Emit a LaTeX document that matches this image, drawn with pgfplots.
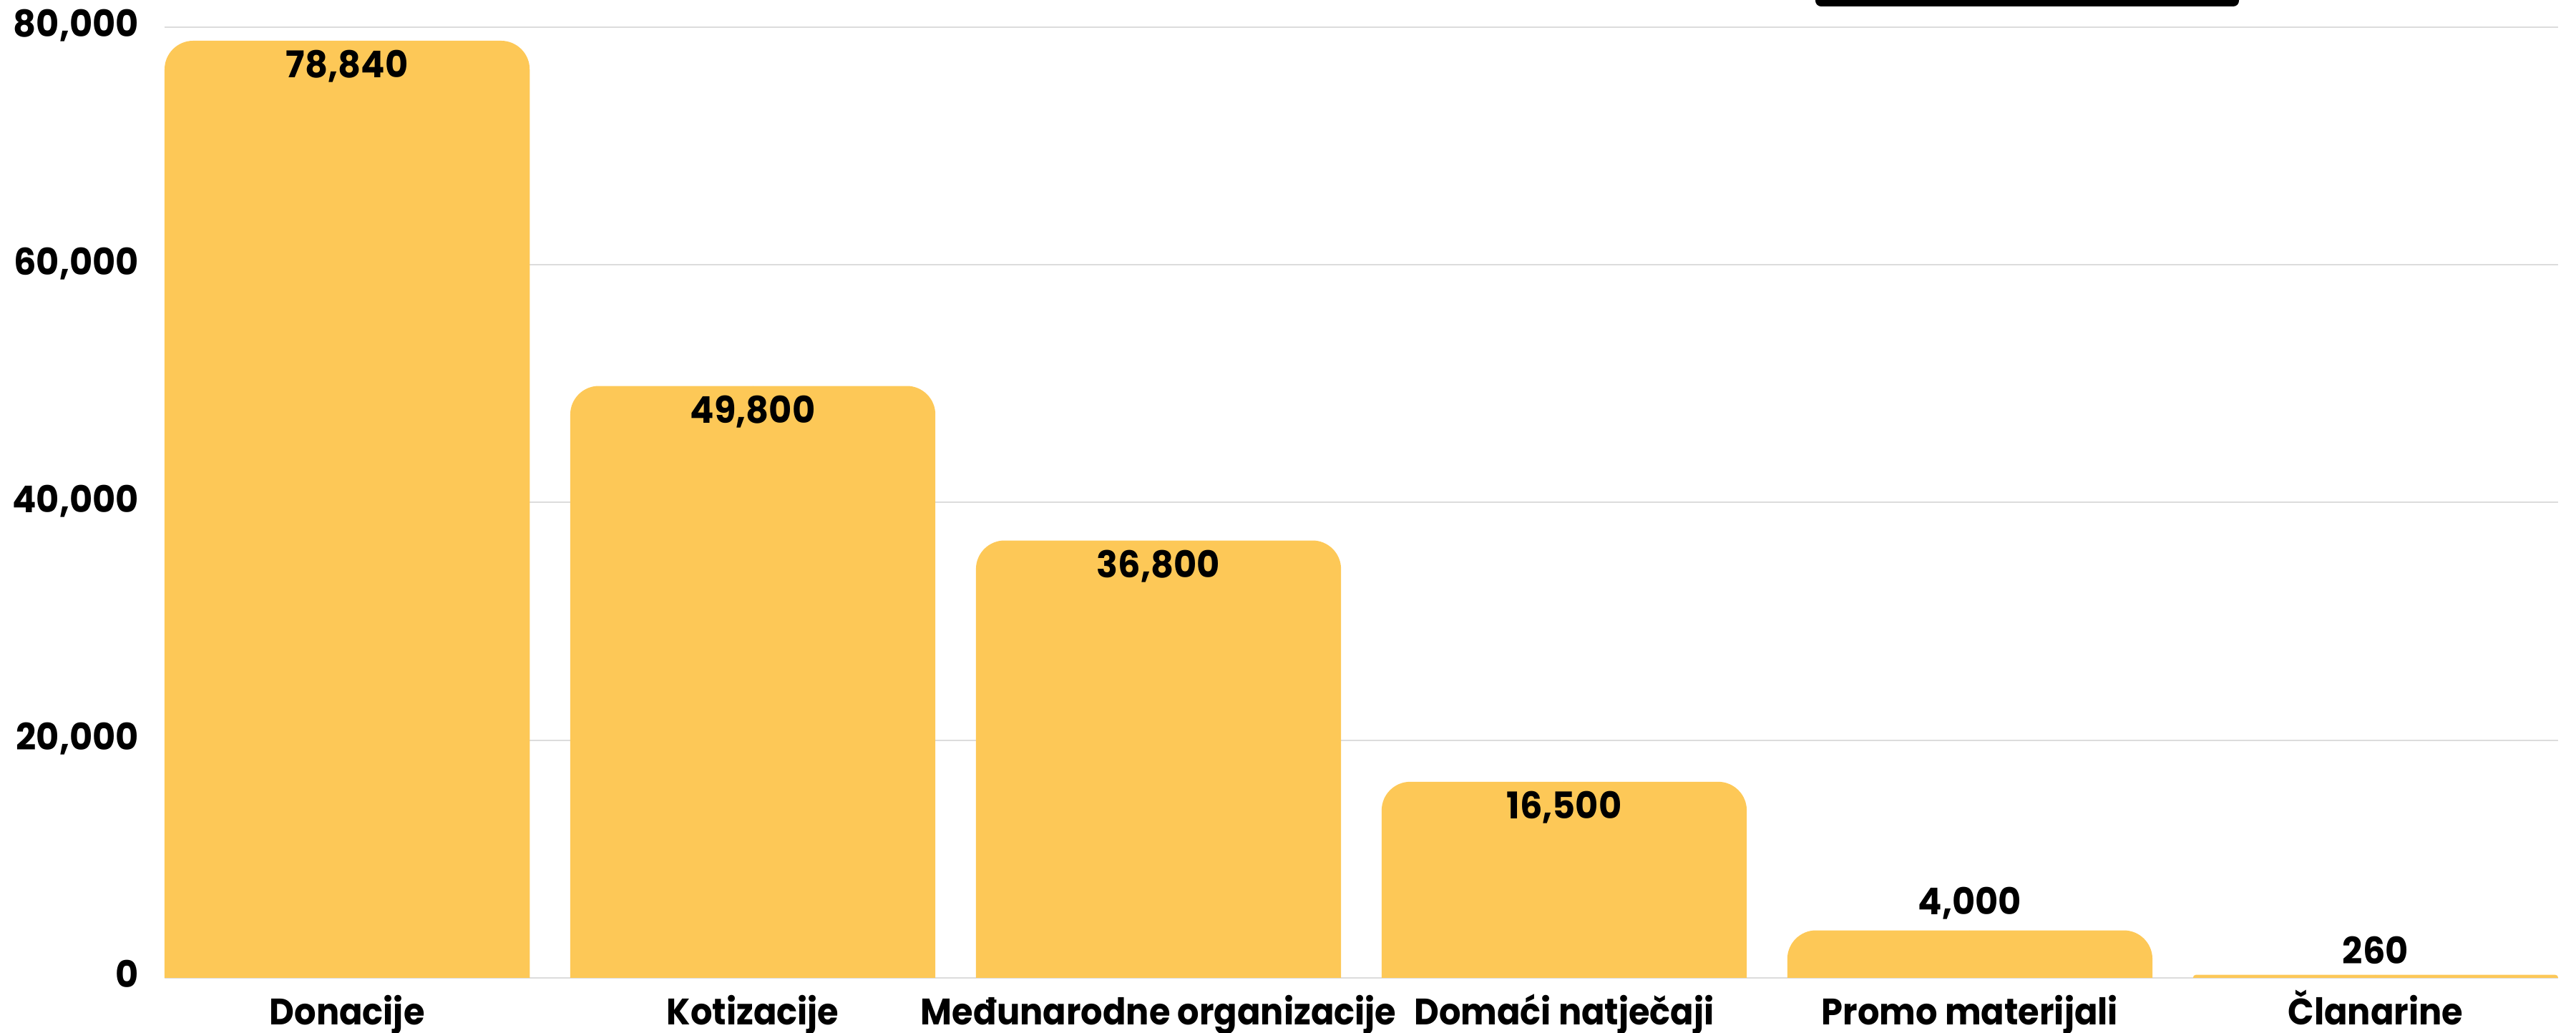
\documentclass[border=0pt]{standalone}
\usepackage{fontspec}
\setmainfont{Poppins}[FakeStretch=0.96]
\newfontfamily\catfont{Poppins}[FakeStretch=0.93]
\usepackage{pgfplots}
\pgfplotsset{compat=1.18}
\usepackage{pgfplotstable}
\definecolor{barcol}{HTML}{FDC857}
\definecolor{gridcol}{HTML}{DCDCDC}
\definecolor{basecol}{HTML}{777777}

\pgfplotstableread{
x y off
0 78840 -10.4
1 49800 -10.4
2 36800 -10.4
3 16500 -10.4
4 4000 4.4
5 260 3.1
}\datatable

\begin{document}
\begin{tikzpicture}[font=\bfseries\fontsize{10.3}{12}\selectfont]
\clip (-46pt,-15.4pt) rectangle (674pt,273.4pt);
\fill[black, rounded corners=1.6pt] (461.4pt,271.6pt) rectangle (579.8pt,285pt);
\begin{axis}[
  at={(0,0)}, anchor=south west,
  scale only axis, width=669pt, height=265.86pt,
  xmin=-0.45, xmax=5.45, ymin=0, ymax=80000,
  enlargelimits=false,
  axis line style={draw=none},
  tick style={draw=none},
  major tick length=0pt,
  ymajorgrids,
  major grid style={gridcol, line width=0.45pt},
  ytick={0,20000,40000,60000,80000},
  scaled y ticks=false,
  /pgf/number format/.cd, 1000 sep={,}, assume math mode=true, /pgfplots/.cd,
  yticklabel style={anchor=base east, inner sep=0pt, xshift=-7pt, yshift=-2.8pt, font=\bfseries\fontsize{10.3}{12}\selectfont},
  xtick={0,1,2,3,4,5},
  xticklabels={Donacije, Kotizacije, Međunarodne organizacije, Domaći natječaji, Promo materijali, Članarine},
  xticklabel style={anchor=base, inner sep=0pt, yshift=-13pt, font=\catfont\bfseries\fontsize{10.3}{12}\selectfont},
  extra y ticks={0},
  extra y tick labels={},
  extra y tick style={grid style={basecol, line width=0.7pt}},
]
\addplot[fill=barcol, draw=none, mark=none, rounded corners=8pt] coordinates {(-0.45,-6000) (-0.45,78840) (0.45,78840) (0.45,-6000)} -- cycle;
\addplot[fill=barcol, draw=none, mark=none, rounded corners=8pt] coordinates {(0.55,-6000) (0.55,49800) (1.45,49800) (1.45,-6000)} -- cycle;
\addplot[fill=barcol, draw=none, mark=none, rounded corners=8pt] coordinates {(1.55,-6000) (1.55,36800) (2.45,36800) (2.45,-6000)} -- cycle;
\addplot[fill=barcol, draw=none, mark=none, rounded corners=8pt] coordinates {(2.55,-6000) (2.55,16500) (3.45,16500) (3.45,-6000)} -- cycle;
\addplot[fill=barcol, draw=none, mark=none, rounded corners=8pt] coordinates {(3.55,-6000) (3.55,4000) (4.45,4000) (4.45,-6000)} -- cycle;
\addplot[fill=barcol, draw=none, mark=none, rounded corners=0.8pt] coordinates {(4.55,-1000) (4.55,260) (5.45,260) (5.45,-1000)} -- cycle;
\addplot[only marks, mark=*, mark size=0pt, mark options={draw=none, fill=none},
  point meta=y,
  visualization depends on={\thisrow{off} \as \myoff},
  nodes near coords={\pgfmathprintnumber{\pgfplotspointmeta}},
  every node near coord/.append style={anchor=base, yshift=\myoff pt, inner sep=0pt, text=black, font=\bfseries\fontsize{10.3}{12}\selectfont},
] table[x=x, y=y] {\datatable};
\end{axis}
\end{tikzpicture}
\end{document}
